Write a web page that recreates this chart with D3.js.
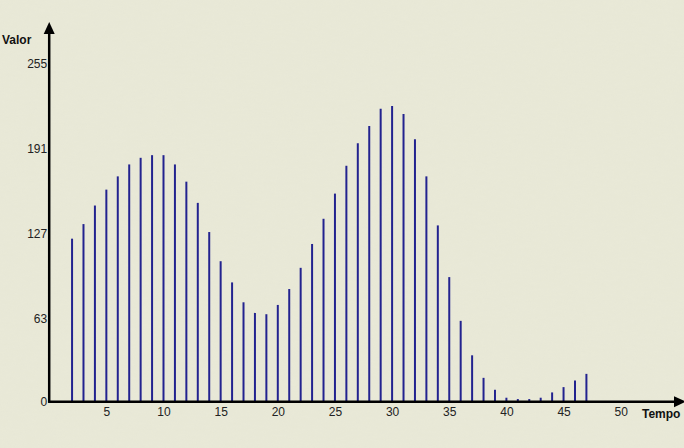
<!DOCTYPE html>
<html>
<head>
<meta charset="utf-8">
<script src="https://cdn.jsdelivr.net/npm/d3@7"></script>
<style>
  html, body { margin: 0; padding: 0; background: #e8e8d6; }
  svg { display: block; }
</style>
</head>
<body>
<svg id="chart" width="684" height="448"></svg>
<script>
// Data
const tempo = [2,3,4,5,6,7,8,9,10,11,12,13,14,15,16,17,18,19,20,21,22,23,24,25,26,27,28,29,30,31,32,33,34,35,36,37,38,39,40,41,42,43,44,45,46,47];
const valor = [123,134,148,160,170,179,184,186,186,179,166,150,128,106,90,75,67,66,73,85,101,119,138,157,178,195,208,221,223,217,198,170,133,94,61,35,18,9,3,2,2,3,7,11,16,21];
const xTicks = [5,10,15,20,25,30,35,40,45,50];
const yTicks = [0,63,127,191,255];

const svg = d3.select("#chart");
const W = 684, H = 448;

// background with subtle texture
const defs = svg.append("defs");
const filt = defs.append("filter").attr("id", "tex").attr("x", 0).attr("y", 0).attr("width", "100%").attr("height", "100%");
filt.append("feTurbulence").attr("type", "fractalNoise").attr("baseFrequency", "0.08 0.35").attr("numOctaves", 2).attr("seed", 3).attr("result", "n");
filt.append("feColorMatrix").attr("in", "n").attr("type", "matrix")
  .attr("values", "0 0 0 0 0.85  0 0 0 0 0.85  0 0 0 0 0.78  0 0 0 0.18 0");
svg.append("rect").attr("width", W).attr("height", H).attr("fill", "#e8e8d6");
svg.append("rect").attr("width", W).attr("height", H).attr("filter", "url(#tex)").attr("opacity", 0.6);

const x = d3.scaleLinear().domain([0, 50]).range([49.2, 620.7]);
const y = d3.scaleLinear().domain([0, 255]).range([401.7, 63.7]);

// bars (thin lines)
svg.append("g").selectAll("line").data(tempo).join("line")
  .attr("x1", d => x(d)).attr("x2", d => x(d))
  .attr("y1", y(0)).attr("y2", (d, i) => y(valor[i]))
  .attr("stroke", "#23238f").attr("stroke-width", 2);

// axes labels via d3 axes
const yAxis = svg.append("g").attr("transform", `translate(${x(0)},0)`)
  .call(d3.axisLeft(y).tickValues(yTicks).tickSize(0).tickPadding(2).tickFormat(d3.format("d")));
const xAxis = svg.append("g").attr("transform", `translate(0,${y(0)})`)
  .call(d3.axisBottom(x).tickValues(xTicks).tickSize(0).tickPadding(6).tickFormat(d3.format("d")));
[yAxis, xAxis].forEach(g => {
  g.select(".domain").remove();
  g.selectAll("text").attr("font-family", "Liberation Sans, Arial, sans-serif").attr("font-size", 12).attr("fill", "#222");
});

// axis lines with arrows
const ax = svg.append("g").attr("stroke", "#000").attr("stroke-width", 2.5);
ax.append("line").attr("x1", x(0) - 1).attr("x2", 678).attr("y1", y(0)).attr("y2", y(0));
ax.append("line").attr("x1", x(0)).attr("x2", x(0)).attr("y1", y(0) + 1).attr("y2", 30);
svg.append("path").attr("d", `M${x(0)},22 L${x(0) + 5.5},34 L${x(0) - 5.5},34 Z`).attr("fill", "#000");
svg.append("path").attr("d", `M686,${y(0)} L674,${y(0) - 5.5} L674,${y(0) + 5.5} Z`).attr("fill", "#000");

// axis titles
svg.append("text").attr("x", 2).attr("y", 44).text("Valor")
  .attr("font-family", "Liberation Sans, Arial, sans-serif").attr("font-size", 12).attr("font-weight", "bold").attr("fill", "#111");
svg.append("text").attr("x", 642).attr("y", 418).text("Tempo")
  .attr("font-family", "Liberation Sans, Arial, sans-serif").attr("font-size", 12).attr("font-weight", "bold").attr("fill", "#111");
</script>
</body>
</html>
